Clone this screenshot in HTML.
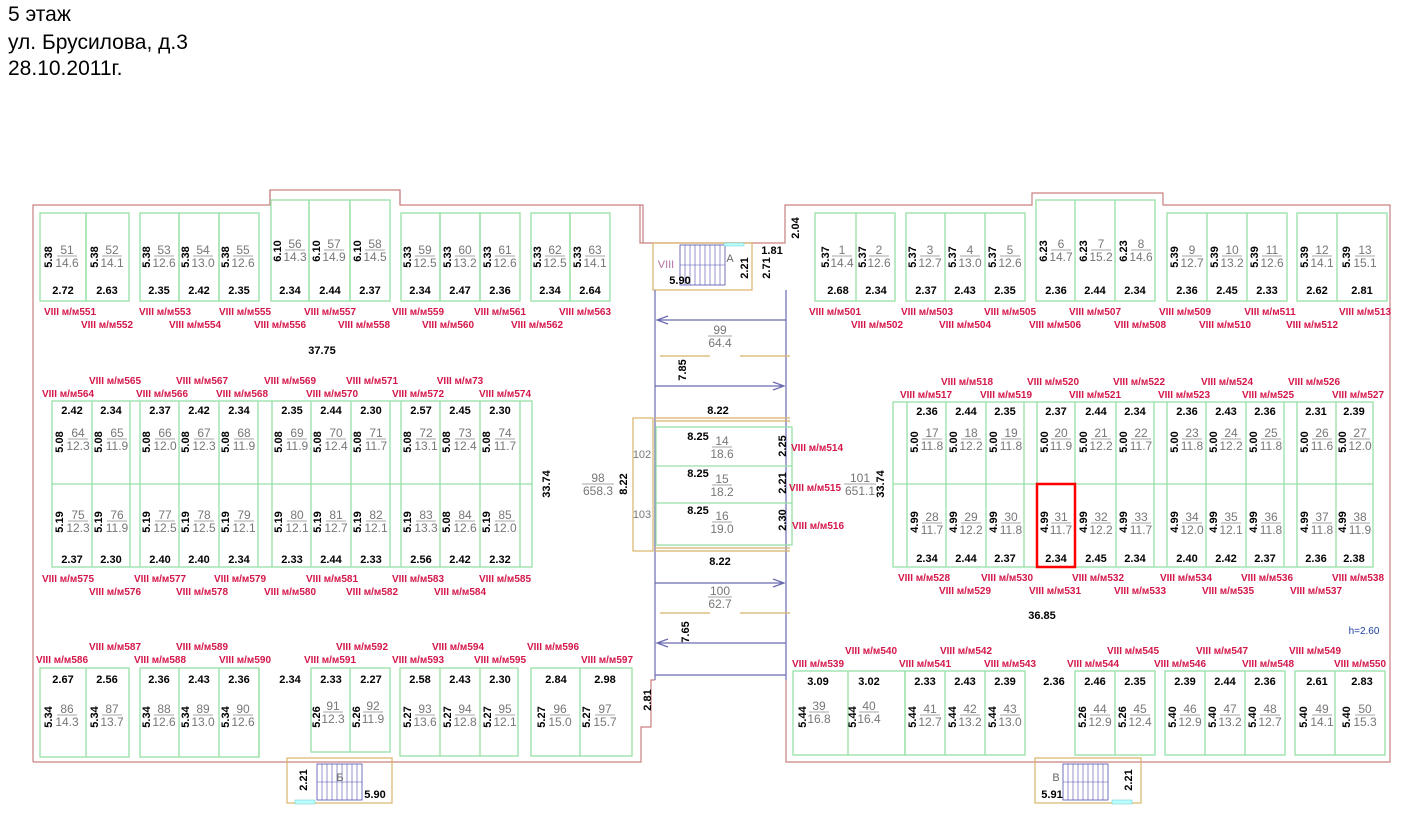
<!DOCTYPE html>
<html><head><meta charset="utf-8"><style>
html,body{margin:0;padding:0;background:#fff;}
.h{position:absolute;left:8px;font:21px "Liberation Sans",sans-serif;color:#000;}
svg text{font-family:"Liberation Sans",sans-serif;}
.d{font-size:11px;font-weight:bold;fill:#000;text-anchor:middle;}
.w{font-size:11px;font-weight:bold;fill:#000;text-anchor:middle;}
.f{font-size:12px;fill:#777;text-anchor:middle;}
.l{font-size:10px;font-weight:bold;fill:#d4174a;text-anchor:middle;}
.g{fill:none;stroke:#96e0a6;stroke-width:1.3;}
.p{fill:none;stroke:#c98080;stroke-width:1.2;}
.t{fill:none;stroke:#d8b56a;stroke-width:1.2;}
.b{stroke:#6a6ab0;stroke-width:1.2;fill:none;}
.fl{stroke:#888;stroke-width:0.8;}
</style></head><body>
<div class="h" style="top:3px">5 этаж</div>
<div class="h" style="top:31px">ул. Брусилова, д.3</div>
<div class="h" style="top:57px">28.10.2011г.</div>
<svg width="1407" height="814" style="position:absolute;left:0;top:0">
<!-- outer walls -->
<path class="p" d="M33,762 V205 H270 V190 H400 V205 H643 V243 H640 M640,205 V243 H785 V205 H1032 V193 H1163 V205 H1390 V762 H786 V680 M655,680 H651 V727 H641 V762 H33"/>
<path class="p" d="M270,190 V205 M400,190 V205"/>
<!-- stair A -->
<rect class="t" x="653" y="243" width="99" height="47"/>
<rect x="680" y="245" width="45" height="40" fill="none" stroke="#5050b0" stroke-width="0.8"/>
<path stroke="#5050b0" stroke-width="0.6" d="M680,265 H725 M685,245 V285 M690,245 V285 M695,245 V285 M700,245 V285 M705,245 V285 M710,245 V285 M715,245 V285 M720,245 V285"/>
<rect x="724" y="243" width="20" height="3" fill="#bff" stroke="#6cc" stroke-width="0.5"/>
<text x="666" y="268" font-size="11" fill="#b070a0" text-anchor="middle">VIII</text>
<text x="730" y="262" font-size="11" fill="#666" text-anchor="middle">А</text>
<text class="w" x="680" y="284">5.90</text>
<text class="d" transform="translate(748,268) rotate(-90)">2.21</text>
<text class="d" transform="translate(770,268) rotate(-90)">2.71</text>
<text class="w" x="772" y="254">1.81</text>
<text class="d" transform="translate(799,228) rotate(-90)">2.04</text>
<!-- corridor -->
<path class="b" d="M655,290 V680 M786,290 V680 M655,675 H786"/>
<path class="b" d="M786,320 H657 M668,316 L657,320 L668,324 M655,386 H784 M773,382 L784,386 L773,390 M655,583 H784 M773,579 L784,583 L773,587 M786,643 H657 M668,639 L657,643 L668,647"/>
<path class="t" d="M660,356 H710 M740,356 H790 M660,613 H710 M740,613 H790 M655,418 H790 M655,421 H790 M655,551 H790 M655,548 H790"/>
<text class="f" x="720" y="334">99</text><line class="fl" x1="708" y1="336" x2="732" y2="336"/><text class="f" x="720" y="347">64.4</text>
<text class="d" transform="translate(686,370) rotate(-90)">7.85</text>
<text class="w" x="718" y="414">8.22</text>
<text class="w" x="720" y="565">8.22</text>
<text class="f" x="720" y="595">100</text><line class="fl" x1="708" y1="597" x2="732" y2="597"/><text class="f" x="720" y="608">62.7</text>
<text class="d" transform="translate(689,632) rotate(-90)">7.65</text>
<rect class="g" x="656" y="427" width="136" height="118"/>
<path class="g" d="M656,466 H792 M656,503 H792"/>
<rect class="t" x="633" y="418" width="20" height="133"/>
<text x="642" y="458" font-size="11" fill="#777" text-anchor="middle">102</text>
<text x="642" y="518" font-size="11" fill="#777" text-anchor="middle">103</text>
<text class="d" transform="translate(627,484) rotate(-90)">8.22</text>
<text class="w" x="698" y="440">8.25</text><text class="f" x="722" y="445">14</text><line class="fl" x1="712" y1="447" x2="732" y2="447"/><text class="f" x="722" y="458">18.6</text>
<text class="w" x="698" y="477">8.25</text><text class="f" x="722" y="483">15</text><line class="fl" x1="712" y1="485" x2="732" y2="485"/><text class="f" x="722" y="496">18.2</text>
<text class="w" x="698" y="514">8.25</text><text class="f" x="722" y="520">16</text><line class="fl" x1="712" y1="522" x2="732" y2="522"/><text class="f" x="722" y="533">19.0</text>
<text class="d" transform="translate(786,446) rotate(-90)">2.25</text>
<text class="d" transform="translate(786,483) rotate(-90)">2.21</text>
<text class="d" transform="translate(786,520) rotate(-90)">2.30</text>
<text class="l" x="817" y="451">VIII м/м514</text>
<text class="l" x="815" y="491">VIII м/м515</text>
<text class="l" x="818" y="529">VIII м/м516</text>

<!-- LEFT TOP ROW -->
<g>
<rect class="g" x="40" y="213" width="46" height="88"/><rect class="g" x="86" y="213" width="43" height="88"/>
<rect class="g" x="140" y="213" width="39" height="88"/><rect class="g" x="179" y="213" width="40" height="88"/><rect class="g" x="219" y="213" width="40" height="88"/>
<rect class="g" x="271" y="200" width="38" height="101"/><rect class="g" x="309" y="200" width="41" height="101"/><rect class="g" x="350" y="200" width="40" height="101"/>
<rect class="g" x="401" y="213" width="39" height="88"/><rect class="g" x="440" y="213" width="40" height="88"/><rect class="g" x="480" y="213" width="40" height="88"/>
<rect class="g" x="531" y="213" width="39" height="88"/><rect class="g" x="570" y="213" width="40" height="88"/>
</g>
<g>
<text class="d" transform="translate(52,257) rotate(-90)">5.38</text><text class="f" x="67" y="254">51</text><line class="fl" x1="57" y1="256" x2="77" y2="256"/><text class="f" x="67" y="267">14.6</text><text class="w" x="63" y="294">2.72</text>
<text class="d" transform="translate(98,257) rotate(-90)">5.38</text><text class="f" x="112" y="254">52</text><line class="fl" x1="102" y1="256" x2="122" y2="256"/><text class="f" x="112" y="267">14.1</text><text class="w" x="107" y="294">2.63</text>
<text class="d" transform="translate(150,257) rotate(-90)">5.38</text><text class="f" x="164" y="254">53</text><line class="fl" x1="154" y1="256" x2="174" y2="256"/><text class="f" x="164" y="267">12.6</text><text class="w" x="159" y="294">2.35</text>
<text class="d" transform="translate(189,257) rotate(-90)">5.38</text><text class="f" x="203" y="254">54</text><line class="fl" x1="193" y1="256" x2="213" y2="256"/><text class="f" x="203" y="267">13.0</text><text class="w" x="199" y="294">2.42</text>
<text class="d" transform="translate(229,257) rotate(-90)">5.38</text><text class="f" x="243" y="254">55</text><line class="fl" x1="233" y1="256" x2="253" y2="256"/><text class="f" x="243" y="267">12.6</text><text class="w" x="239" y="294">2.35</text>
<text class="d" transform="translate(281,251) rotate(-90)">6.10</text><text class="f" x="295" y="248">56</text><line class="fl" x1="285" y1="250" x2="305" y2="250"/><text class="f" x="295" y="261">14.3</text><text class="w" x="290" y="294">2.34</text>
<text class="d" transform="translate(320,251) rotate(-90)">6.10</text><text class="f" x="334" y="248">57</text><line class="fl" x1="324" y1="250" x2="344" y2="250"/><text class="f" x="334" y="261">14.9</text><text class="w" x="330" y="294">2.44</text>
<text class="d" transform="translate(361,251) rotate(-90)">6.10</text><text class="f" x="375" y="248">58</text><line class="fl" x1="365" y1="250" x2="385" y2="250"/><text class="f" x="375" y="261">14.5</text><text class="w" x="370" y="294">2.37</text>
<text class="d" transform="translate(411,257) rotate(-90)">5.33</text><text class="f" x="425" y="254">59</text><line class="fl" x1="415" y1="256" x2="435" y2="256"/><text class="f" x="425" y="267">12.5</text><text class="w" x="420" y="294">2.34</text>
<text class="d" transform="translate(451,257) rotate(-90)">5.33</text><text class="f" x="465" y="254">60</text><line class="fl" x1="455" y1="256" x2="475" y2="256"/><text class="f" x="465" y="267">13.2</text><text class="w" x="460" y="294">2.47</text>
<text class="d" transform="translate(491,257) rotate(-90)">5.33</text><text class="f" x="505" y="254">61</text><line class="fl" x1="495" y1="256" x2="515" y2="256"/><text class="f" x="505" y="267">12.6</text><text class="w" x="500" y="294">2.36</text>
<text class="d" transform="translate(541,257) rotate(-90)">5.33</text><text class="f" x="555" y="254">62</text><line class="fl" x1="545" y1="256" x2="565" y2="256"/><text class="f" x="555" y="267">12.5</text><text class="w" x="550" y="294">2.34</text>
<text class="d" transform="translate(581,257) rotate(-90)">5.33</text><text class="f" x="595" y="254">63</text><line class="fl" x1="585" y1="256" x2="605" y2="256"/><text class="f" x="595" y="267">14.1</text><text class="w" x="590" y="294">2.64</text>
</g>
<g>
<text class="l" x="70" y="315">VIII м/м551</text><text class="l" x="165" y="315">VIII м/м553</text><text class="l" x="245" y="315">VIII м/м555</text><text class="l" x="330" y="315">VIII м/м557</text><text class="l" x="418" y="315">VIII м/м559</text><text class="l" x="500" y="315">VIII м/м561</text><text class="l" x="585" y="315">VIII м/м563</text>
<text class="l" x="107" y="328">VIII м/м552</text><text class="l" x="195" y="328">VIII м/м554</text><text class="l" x="280" y="328">VIII м/м556</text><text class="l" x="364" y="328">VIII м/м558</text><text class="l" x="448" y="328">VIII м/м560</text><text class="l" x="537" y="328">VIII м/м562</text>
</g>
<text class="w" x="322" y="354">37.75</text>

<!-- LEFT MIDDLE BLOCK -->
<rect class="g" x="52" y="401" width="480" height="166"/>
<path class="g" d="M52,484 H532 M92,401 V567 M130,401 V567 M140,401 V567 M179,401 V567 M219,401 V567 M258,401 V567 M272,401 V567 M311,401 V567 M351,401 V567 M390,401 V567 M401,401 V567 M440,401 V567 M480,401 V567 M520,401 V567"/>
<g>
<text class="w" x="72" y="414">2.42</text><text class="d" transform="translate(63,442) rotate(-90)">5.08</text><text class="f" x="78" y="437">64</text><line class="fl" x1="68" y1="439" x2="88" y2="439"/><text class="f" x="78" y="450">12.3</text>
<text class="w" x="111" y="414">2.34</text><text class="d" transform="translate(102,442) rotate(-90)">5.08</text><text class="f" x="117" y="437">65</text><line class="fl" x1="107" y1="439" x2="127" y2="439"/><text class="f" x="117" y="450">11.9</text>
<text class="w" x="160" y="414">2.37</text><text class="d" transform="translate(150,442) rotate(-90)">5.08</text><text class="f" x="165" y="437">66</text><line class="fl" x1="155" y1="439" x2="175" y2="439"/><text class="f" x="165" y="450">12.0</text>
<text class="w" x="199" y="414">2.42</text><text class="d" transform="translate(189,442) rotate(-90)">5.08</text><text class="f" x="204" y="437">67</text><line class="fl" x1="194" y1="439" x2="214" y2="439"/><text class="f" x="204" y="450">12.3</text>
<text class="w" x="239" y="414">2.34</text><text class="d" transform="translate(229,442) rotate(-90)">5.08</text><text class="f" x="244" y="437">68</text><line class="fl" x1="234" y1="439" x2="254" y2="439"/><text class="f" x="244" y="450">11.9</text>
<text class="w" x="292" y="414">2.35</text><text class="d" transform="translate(282,442) rotate(-90)">5.08</text><text class="f" x="297" y="437">69</text><line class="fl" x1="287" y1="439" x2="307" y2="439"/><text class="f" x="297" y="450">11.9</text>
<text class="w" x="331" y="414">2.44</text><text class="d" transform="translate(321,442) rotate(-90)">5.08</text><text class="f" x="336" y="437">70</text><line class="fl" x1="326" y1="439" x2="346" y2="439"/><text class="f" x="336" y="450">12.4</text>
<text class="w" x="371" y="414">2.30</text><text class="d" transform="translate(361,442) rotate(-90)">5.08</text><text class="f" x="376" y="437">71</text><line class="fl" x1="366" y1="439" x2="386" y2="439"/><text class="f" x="376" y="450">11.7</text>
<text class="w" x="421" y="414">2.57</text><text class="d" transform="translate(411,442) rotate(-90)">5.08</text><text class="f" x="426" y="437">72</text><line class="fl" x1="416" y1="439" x2="436" y2="439"/><text class="f" x="426" y="450">13.1</text>
<text class="w" x="460" y="414">2.45</text><text class="d" transform="translate(450,442) rotate(-90)">5.08</text><text class="f" x="465" y="437">73</text><line class="fl" x1="455" y1="439" x2="475" y2="439"/><text class="f" x="465" y="450">12.4</text>
<text class="w" x="500" y="414">2.30</text><text class="d" transform="translate(490,442) rotate(-90)">5.08</text><text class="f" x="505" y="437">74</text><line class="fl" x1="495" y1="439" x2="515" y2="439"/><text class="f" x="505" y="450">11.7</text>

<text class="w" x="72" y="563">2.37</text><text class="d" transform="translate(63,522) rotate(-90)">5.19</text><text class="f" x="78" y="519">75</text><line class="fl" x1="68" y1="521" x2="88" y2="521"/><text class="f" x="78" y="532">12.3</text>
<text class="w" x="111" y="563">2.30</text><text class="d" transform="translate(102,522) rotate(-90)">5.19</text><text class="f" x="117" y="519">76</text><line class="fl" x1="107" y1="521" x2="127" y2="521"/><text class="f" x="117" y="532">11.9</text>
<text class="w" x="160" y="563">2.40</text><text class="d" transform="translate(150,522) rotate(-90)">5.19</text><text class="f" x="165" y="519">77</text><line class="fl" x1="155" y1="521" x2="175" y2="521"/><text class="f" x="165" y="532">12.5</text>
<text class="w" x="199" y="563">2.40</text><text class="d" transform="translate(189,522) rotate(-90)">5.19</text><text class="f" x="204" y="519">78</text><line class="fl" x1="194" y1="521" x2="214" y2="521"/><text class="f" x="204" y="532">12.5</text>
<text class="w" x="239" y="563">2.34</text><text class="d" transform="translate(229,522) rotate(-90)">5.19</text><text class="f" x="244" y="519">79</text><line class="fl" x1="234" y1="521" x2="254" y2="521"/><text class="f" x="244" y="532">12.1</text>
<text class="w" x="292" y="563">2.33</text><text class="d" transform="translate(282,522) rotate(-90)">5.19</text><text class="f" x="297" y="519">80</text><line class="fl" x1="287" y1="521" x2="307" y2="521"/><text class="f" x="297" y="532">12.1</text>
<text class="w" x="331" y="563">2.44</text><text class="d" transform="translate(321,522) rotate(-90)">5.19</text><text class="f" x="336" y="519">81</text><line class="fl" x1="326" y1="521" x2="346" y2="521"/><text class="f" x="336" y="532">12.7</text>
<text class="w" x="371" y="563">2.33</text><text class="d" transform="translate(361,522) rotate(-90)">5.19</text><text class="f" x="376" y="519">82</text><line class="fl" x1="366" y1="521" x2="386" y2="521"/><text class="f" x="376" y="532">12.1</text>
<text class="w" x="421" y="563">2.56</text><text class="d" transform="translate(411,522) rotate(-90)">5.19</text><text class="f" x="426" y="519">83</text><line class="fl" x1="416" y1="521" x2="436" y2="521"/><text class="f" x="426" y="532">13.3</text>
<text class="w" x="460" y="563">2.42</text><text class="d" transform="translate(450,522) rotate(-90)">5.08</text><text class="f" x="465" y="519">84</text><line class="fl" x1="455" y1="521" x2="475" y2="521"/><text class="f" x="465" y="532">12.6</text>
<text class="w" x="500" y="563">2.32</text><text class="d" transform="translate(490,522) rotate(-90)">5.19</text><text class="f" x="505" y="519">85</text><line class="fl" x1="495" y1="521" x2="515" y2="521"/><text class="f" x="505" y="532">12.0</text>
</g>
<g>
<text class="l" x="115" y="384">VIII м/м565</text><text class="l" x="202" y="384">VIII м/м567</text><text class="l" x="290" y="384">VIII м/м569</text><text class="l" x="372" y="384">VIII м/м571</text><text class="l" x="460" y="384">VIII м/м73</text>
<text class="l" x="68" y="397">VIII м/м564</text><text class="l" x="162" y="397">VIII м/м566</text><text class="l" x="242" y="397">VIII м/м568</text><text class="l" x="332" y="397">VIII м/м570</text><text class="l" x="418" y="397">VIII м/м572</text><text class="l" x="505" y="397">VIII м/м574</text>
<text class="l" x="68" y="582">VIII м/м575</text><text class="l" x="160" y="582">VIII м/м577</text><text class="l" x="240" y="582">VIII м/м579</text><text class="l" x="332" y="582">VIII м/м581</text><text class="l" x="418" y="582">VIII м/м583</text><text class="l" x="505" y="582">VIII м/м585</text>
<text class="l" x="115" y="595">VIII м/м576</text><text class="l" x="202" y="595">VIII м/м578</text><text class="l" x="290" y="595">VIII м/м580</text><text class="l" x="372" y="595">VIII м/м582</text><text class="l" x="460" y="595">VIII м/м584</text>
</g>
<text class="d" transform="translate(550,484) rotate(-90)">33.74</text>
<text class="f" x="598" y="482">98</text><line class="fl" x1="582" y1="484" x2="614" y2="484"/><text class="f" x="598" y="495">658.3</text>

<!-- LEFT BOTTOM BLOCK -->
<rect class="g" x="40" y="668" width="89" height="89"/><line class="g" x1="86" y1="668" x2="86" y2="757"/>
<rect class="g" x="140" y="668" width="119" height="89"/><path class="g" d="M179,668 V757 M219,668 V757"/>
<rect class="g" x="311" y="668" width="79" height="84"/><line class="g" x1="350" y1="668" x2="350" y2="752"/>
<rect class="g" x="400" y="668" width="118" height="88"/><path class="g" d="M440,668 V756 M480,668 V756"/>
<rect class="g" x="531" y="668" width="101" height="88"/><line class="g" x1="580" y1="668" x2="580" y2="756"/>
<line class="g" x1="259" y1="668" x2="259" y2="757"/>
<g>
<text class="w" x="63" y="683">2.67</text><text class="d" transform="translate(52,717) rotate(-90)">5.34</text><text class="f" x="67" y="713">86</text><line class="fl" x1="57" y1="715" x2="77" y2="715"/><text class="f" x="67" y="726">14.3</text>
<text class="w" x="107" y="683">2.56</text><text class="d" transform="translate(98,717) rotate(-90)">5.34</text><text class="f" x="112" y="713">87</text><line class="fl" x1="102" y1="715" x2="122" y2="715"/><text class="f" x="112" y="726">13.7</text>
<text class="w" x="159" y="683">2.36</text><text class="d" transform="translate(150,717) rotate(-90)">5.34</text><text class="f" x="164" y="713">88</text><line class="fl" x1="154" y1="715" x2="174" y2="715"/><text class="f" x="164" y="726">12.6</text>
<text class="w" x="199" y="683">2.43</text><text class="d" transform="translate(189,717) rotate(-90)">5.34</text><text class="f" x="203" y="713">89</text><line class="fl" x1="193" y1="715" x2="213" y2="715"/><text class="f" x="203" y="726">13.0</text>
<text class="w" x="239" y="683">2.36</text><text class="d" transform="translate(229,717) rotate(-90)">5.34</text><text class="f" x="243" y="713">90</text><line class="fl" x1="233" y1="715" x2="253" y2="715"/><text class="f" x="243" y="726">12.6</text>
<text class="w" x="290" y="683">2.34</text>
<text class="w" x="331" y="683">2.33</text><text class="d" transform="translate(320,717) rotate(-90)">5.26</text><text class="f" x="333" y="710">91</text><line class="fl" x1="323" y1="712" x2="343" y2="712"/><text class="f" x="333" y="723">12.3</text>
<text class="w" x="371" y="683">2.27</text><text class="d" transform="translate(360,717) rotate(-90)">5.26</text><text class="f" x="373" y="710">92</text><line class="fl" x1="363" y1="712" x2="383" y2="712"/><text class="f" x="373" y="723">11.9</text>
<text class="w" x="420" y="683">2.58</text><text class="d" transform="translate(411,717) rotate(-90)">5.27</text><text class="f" x="425" y="713">93</text><line class="fl" x1="415" y1="715" x2="435" y2="715"/><text class="f" x="425" y="726">13.6</text>
<text class="w" x="460" y="683">2.43</text><text class="d" transform="translate(451,717) rotate(-90)">5.27</text><text class="f" x="465" y="713">94</text><line class="fl" x1="455" y1="715" x2="475" y2="715"/><text class="f" x="465" y="726">12.8</text>
<text class="w" x="500" y="683">2.30</text><text class="d" transform="translate(491,717) rotate(-90)">5.27</text><text class="f" x="505" y="713">95</text><line class="fl" x1="495" y1="715" x2="515" y2="715"/><text class="f" x="505" y="726">12.1</text>
<text class="w" x="556" y="683">2.84</text><text class="d" transform="translate(545,717) rotate(-90)">5.27</text><text class="f" x="560" y="713">96</text><line class="fl" x1="550" y1="715" x2="570" y2="715"/><text class="f" x="560" y="726">15.0</text>
<text class="w" x="605" y="683">2.98</text><text class="d" transform="translate(590,717) rotate(-90)">5.27</text><text class="f" x="605" y="713">97</text><line class="fl" x1="595" y1="715" x2="615" y2="715"/><text class="f" x="605" y="726">15.7</text>
</g>
<g>
<text class="l" x="115" y="650">VIII м/м587</text><text class="l" x="202" y="650">VIII м/м589</text><text class="l" x="362" y="650">VIII м/м592</text><text class="l" x="458" y="650">VIII м/м594</text><text class="l" x="553" y="650">VIII м/м596</text>
<text class="l" x="62" y="663">VIII м/м586</text><text class="l" x="160" y="663">VIII м/м588</text><text class="l" x="245" y="663">VIII м/м590</text><text class="l" x="330" y="663">VIII м/м591</text><text class="l" x="418" y="663">VIII м/м593</text><text class="l" x="500" y="663">VIII м/м595</text><text class="l" x="607" y="663">VIII м/м597</text>
</g>
<text class="d" transform="translate(651,700) rotate(-90)">2.81</text>
<!-- stair Б -->
<rect class="t" x="287" y="758" width="105" height="45"/>
<rect x="317" y="764" width="45" height="36" fill="none" stroke="#5050b0" stroke-width="0.8"/>
<path stroke="#5050b0" stroke-width="0.6" d="M317,782 H362 M322,764 V800 M327,764 V800 M332,764 V800 M337,764 V800 M342,764 V800 M347,764 V800 M352,764 V800 M357,764 V800"/>
<rect x="295" y="800" width="20" height="4" fill="#bff" stroke="#6cc" stroke-width="0.5"/>
<text x="340" y="781" font-size="11" fill="#666" text-anchor="middle">Б</text>
<text class="w" x="375" y="798">5.90</text>
<text class="d" transform="translate(307,780) rotate(-90)">2.21</text>

<!-- RIGHT TOP ROW -->
<rect class="g" x="815" y="213" width="80" height="88"/><line class="g" x1="856" y1="213" x2="856" y2="301"/>
<rect class="g" x="906" y="213" width="119" height="88"/><path class="g" d="M945,213 V301 M985,213 V301"/>
<rect class="g" x="1036" y="200" width="119" height="101"/><path class="g" d="M1075,200 V301 M1115,200 V301"/>
<rect class="g" x="1167" y="213" width="120" height="88"/><path class="g" d="M1207,213 V301 M1247,213 V301"/>
<rect class="g" x="1297" y="213" width="90" height="88"/><line class="g" x1="1337" y1="213" x2="1337" y2="301"/>
<g>
<text class="d" transform="translate(829,257) rotate(-90)">5.37</text><text class="f" x="842" y="254">1</text><line class="fl" x1="832" y1="256" x2="852" y2="256"/><text class="f" x="842" y="267">14.4</text><text class="w" x="838" y="294">2.68</text>
<text class="d" transform="translate(866,257) rotate(-90)">5.37</text><text class="f" x="879" y="254">2</text><line class="fl" x1="869" y1="256" x2="889" y2="256"/><text class="f" x="879" y="267">12.6</text><text class="w" x="876" y="294">2.34</text>
<text class="d" transform="translate(916,257) rotate(-90)">5.37</text><text class="f" x="930" y="254">3</text><line class="fl" x1="920" y1="256" x2="940" y2="256"/><text class="f" x="930" y="267">12.7</text><text class="w" x="926" y="294">2.37</text>
<text class="d" transform="translate(956,257) rotate(-90)">5.37</text><text class="f" x="970" y="254">4</text><line class="fl" x1="960" y1="256" x2="980" y2="256"/><text class="f" x="970" y="267">13.0</text><text class="w" x="965" y="294">2.43</text>
<text class="d" transform="translate(996,257) rotate(-90)">5.37</text><text class="f" x="1010" y="254">5</text><line class="fl" x1="1000" y1="256" x2="1020" y2="256"/><text class="f" x="1010" y="267">12.6</text><text class="w" x="1005" y="294">2.35</text>
<text class="d" transform="translate(1047,251) rotate(-90)">6.23</text><text class="f" x="1061" y="248">6</text><line class="fl" x1="1051" y1="250" x2="1071" y2="250"/><text class="f" x="1061" y="261">14.7</text><text class="w" x="1056" y="294">2.36</text>
<text class="d" transform="translate(1087,251) rotate(-90)">6.23</text><text class="f" x="1101" y="248">7</text><line class="fl" x1="1091" y1="250" x2="1111" y2="250"/><text class="f" x="1101" y="261">15.2</text><text class="w" x="1095" y="294">2.44</text>
<text class="d" transform="translate(1127,251) rotate(-90)">6.23</text><text class="f" x="1141" y="248">8</text><line class="fl" x1="1131" y1="250" x2="1151" y2="250"/><text class="f" x="1141" y="261">14.6</text><text class="w" x="1135" y="294">2.34</text>
<text class="d" transform="translate(1178,257) rotate(-90)">5.39</text><text class="f" x="1192" y="254">9</text><line class="fl" x1="1182" y1="256" x2="1202" y2="256"/><text class="f" x="1192" y="267">12.7</text><text class="w" x="1187" y="294">2.36</text>
<text class="d" transform="translate(1218,257) rotate(-90)">5.39</text><text class="f" x="1232" y="254">10</text><line class="fl" x1="1222" y1="256" x2="1242" y2="256"/><text class="f" x="1232" y="267">13.2</text><text class="w" x="1227" y="294">2.45</text>
<text class="d" transform="translate(1258,257) rotate(-90)">5.39</text><text class="f" x="1272" y="254">11</text><line class="fl" x1="1262" y1="256" x2="1282" y2="256"/><text class="f" x="1272" y="267">12.6</text><text class="w" x="1267" y="294">2.33</text>
<text class="d" transform="translate(1308,257) rotate(-90)">5.39</text><text class="f" x="1322" y="254">12</text><line class="fl" x1="1312" y1="256" x2="1332" y2="256"/><text class="f" x="1322" y="267">14.1</text><text class="w" x="1317" y="294">2.62</text>
<text class="d" transform="translate(1350,257) rotate(-90)">5.39</text><text class="f" x="1365" y="254">13</text><line class="fl" x1="1355" y1="256" x2="1375" y2="256"/><text class="f" x="1365" y="267">15.1</text><text class="w" x="1362" y="294">2.81</text>
</g>
<g>
<text class="l" x="835" y="315">VIII м/м501</text><text class="l" x="927" y="315">VIII м/м503</text><text class="l" x="1010" y="315">VIII м/м505</text><text class="l" x="1095" y="315">VIII м/м507</text><text class="l" x="1185" y="315">VIII м/м509</text><text class="l" x="1270" y="315">VIII м/м511</text><text class="l" x="1365" y="315">VIII м/м513</text>
<text class="l" x="877" y="328">VIII м/м502</text><text class="l" x="965" y="328">VIII м/м504</text><text class="l" x="1055" y="328">VIII м/м506</text><text class="l" x="1140" y="328">VIII м/м508</text><text class="l" x="1225" y="328">VIII м/м510</text><text class="l" x="1312" y="328">VIII м/м512</text>
</g>

<!-- RIGHT MIDDLE BLOCK -->
<rect class="g" x="893" y="402" width="480" height="165"/>
<path class="g" d="M893,484 H1373 M907,402 V567 M946,402 V567 M986,402 V567 M1024,402 V567 M1037,402 V567 M1075,402 V567 M1116,402 V567 M1154,402 V567 M1167,402 V567 M1206,402 V567 M1246,402 V567 M1284,402 V567 M1297,402 V567 M1336,402 V567"/>
<g>
<text class="w" x="927" y="415">2.36</text><text class="d" transform="translate(918,442) rotate(-90)">5.00</text><text class="f" x="932" y="437">17</text><line class="fl" x1="922" y1="439" x2="942" y2="439"/><text class="f" x="932" y="450">11.8</text>
<text class="w" x="966" y="415">2.44</text><text class="d" transform="translate(957,442) rotate(-90)">5.00</text><text class="f" x="971" y="437">18</text><line class="fl" x1="961" y1="439" x2="981" y2="439"/><text class="f" x="971" y="450">12.2</text>
<text class="w" x="1005" y="415">2.35</text><text class="d" transform="translate(997,442) rotate(-90)">5.00</text><text class="f" x="1011" y="437">19</text><line class="fl" x1="1001" y1="439" x2="1021" y2="439"/><text class="f" x="1011" y="450">11.8</text>
<text class="w" x="1056" y="415">2.37</text><text class="d" transform="translate(1048,442) rotate(-90)">5.00</text><text class="f" x="1061" y="437">20</text><line class="fl" x1="1051" y1="439" x2="1071" y2="439"/><text class="f" x="1061" y="450">11.9</text>
<text class="w" x="1096" y="415">2.44</text><text class="d" transform="translate(1087,442) rotate(-90)">5.00</text><text class="f" x="1101" y="437">21</text><line class="fl" x1="1091" y1="439" x2="1111" y2="439"/><text class="f" x="1101" y="450">12.2</text>
<text class="w" x="1135" y="415">2.34</text><text class="d" transform="translate(1127,442) rotate(-90)">5.00</text><text class="f" x="1141" y="437">22</text><line class="fl" x1="1131" y1="439" x2="1151" y2="439"/><text class="f" x="1141" y="450">11.7</text>
<text class="w" x="1187" y="415">2.36</text><text class="d" transform="translate(1178,442) rotate(-90)">5.00</text><text class="f" x="1192" y="437">23</text><line class="fl" x1="1182" y1="439" x2="1202" y2="439"/><text class="f" x="1192" y="450">11.8</text>
<text class="w" x="1226" y="415">2.43</text><text class="d" transform="translate(1217,442) rotate(-90)">5.00</text><text class="f" x="1231" y="437">24</text><line class="fl" x1="1221" y1="439" x2="1241" y2="439"/><text class="f" x="1231" y="450">12.2</text>
<text class="w" x="1265" y="415">2.36</text><text class="d" transform="translate(1257,442) rotate(-90)">5.00</text><text class="f" x="1271" y="437">25</text><line class="fl" x1="1261" y1="439" x2="1281" y2="439"/><text class="f" x="1271" y="450">11.8</text>
<text class="w" x="1316" y="415">2.31</text><text class="d" transform="translate(1308,442) rotate(-90)">5.00</text><text class="f" x="1322" y="437">26</text><line class="fl" x1="1312" y1="439" x2="1332" y2="439"/><text class="f" x="1322" y="450">11.6</text>
<text class="w" x="1354" y="415">2.39</text><text class="d" transform="translate(1346,442) rotate(-90)">5.00</text><text class="f" x="1360" y="437">27</text><line class="fl" x1="1350" y1="439" x2="1370" y2="439"/><text class="f" x="1360" y="450">12.0</text>

<text class="w" x="927" y="562">2.34</text><text class="d" transform="translate(918,522) rotate(-90)">4.99</text><text class="f" x="932" y="521">28</text><line class="fl" x1="922" y1="523" x2="942" y2="523"/><text class="f" x="932" y="534">11.7</text>
<text class="w" x="966" y="562">2.44</text><text class="d" transform="translate(957,522) rotate(-90)">4.99</text><text class="f" x="971" y="521">29</text><line class="fl" x1="961" y1="523" x2="981" y2="523"/><text class="f" x="971" y="534">12.2</text>
<text class="w" x="1005" y="562">2.37</text><text class="d" transform="translate(997,522) rotate(-90)">4.99</text><text class="f" x="1011" y="521">30</text><line class="fl" x1="1001" y1="523" x2="1021" y2="523"/><text class="f" x="1011" y="534">11.8</text>
<text class="w" x="1056" y="562">2.34</text><text class="d" transform="translate(1048,522) rotate(-90)">4.99</text><text class="f" x="1061" y="521">31</text><line class="fl" x1="1051" y1="523" x2="1071" y2="523"/><text class="f" x="1061" y="534">11.7</text>
<text class="w" x="1096" y="562">2.45</text><text class="d" transform="translate(1087,522) rotate(-90)">4.99</text><text class="f" x="1101" y="521">32</text><line class="fl" x1="1091" y1="523" x2="1111" y2="523"/><text class="f" x="1101" y="534">12.2</text>
<text class="w" x="1135" y="562">2.34</text><text class="d" transform="translate(1127,522) rotate(-90)">4.99</text><text class="f" x="1141" y="521">33</text><line class="fl" x1="1131" y1="523" x2="1151" y2="523"/><text class="f" x="1141" y="534">11.7</text>
<text class="w" x="1187" y="562">2.40</text><text class="d" transform="translate(1178,522) rotate(-90)">4.99</text><text class="f" x="1192" y="521">34</text><line class="fl" x1="1182" y1="523" x2="1202" y2="523"/><text class="f" x="1192" y="534">12.0</text>
<text class="w" x="1226" y="562">2.42</text><text class="d" transform="translate(1217,522) rotate(-90)">4.99</text><text class="f" x="1231" y="521">35</text><line class="fl" x1="1221" y1="523" x2="1241" y2="523"/><text class="f" x="1231" y="534">12.1</text>
<text class="w" x="1265" y="562">2.37</text><text class="d" transform="translate(1257,522) rotate(-90)">4.99</text><text class="f" x="1271" y="521">36</text><line class="fl" x1="1261" y1="523" x2="1281" y2="523"/><text class="f" x="1271" y="534">11.8</text>
<text class="w" x="1316" y="562">2.36</text><text class="d" transform="translate(1308,522) rotate(-90)">4.99</text><text class="f" x="1322" y="521">37</text><line class="fl" x1="1312" y1="523" x2="1332" y2="523"/><text class="f" x="1322" y="534">11.8</text>
<text class="w" x="1354" y="562">2.38</text><text class="d" transform="translate(1346,522) rotate(-90)">4.99</text><text class="f" x="1360" y="521">38</text><line class="fl" x1="1350" y1="523" x2="1370" y2="523"/><text class="f" x="1360" y="534">11.9</text>
</g>
<rect x="1037" y="484" width="38" height="83" fill="none" stroke="#f00" stroke-width="2.5"/>
<g>
<text class="l" x="967" y="385">VIII м/м518</text><text class="l" x="1053" y="385">VIII м/м520</text><text class="l" x="1139" y="385">VIII м/м522</text><text class="l" x="1227" y="385">VIII м/м524</text><text class="l" x="1314" y="385">VIII м/м526</text>
<text class="l" x="926" y="398">VIII м/м517</text><text class="l" x="1006" y="398">VIII м/м519</text><text class="l" x="1095" y="398">VIII м/м521</text><text class="l" x="1184" y="398">VIII м/м523</text><text class="l" x="1268" y="398">VIII м/м525</text><text class="l" x="1358" y="398">VIII м/м527</text>
<text class="l" x="924" y="581">VIII м/м528</text><text class="l" x="1007" y="581">VIII м/м530</text><text class="l" x="1098" y="581">VIII м/м532</text><text class="l" x="1186" y="581">VIII м/м534</text><text class="l" x="1267" y="581">VIII м/м536</text><text class="l" x="1358" y="581">VIII м/м538</text>
<text class="l" x="965" y="594">VIII м/м529</text><text class="l" x="1055" y="594">VIII м/м531</text><text class="l" x="1140" y="594">VIII м/м533</text><text class="l" x="1228" y="594">VIII м/м535</text><text class="l" x="1316" y="594">VIII м/м537</text>
</g>
<text class="w" x="1042" y="619">36.85</text>
<text x="1364" y="634" font-size="10" fill="#2040a0" text-anchor="middle">h=2.60</text>
<text class="d" transform="translate(884,484) rotate(-90)">33.74</text>
<text class="f" x="860" y="482">101</text><line class="fl" x1="844" y1="484" x2="876" y2="484"/><text class="f" x="860" y="495">651.1</text>

<!-- RIGHT BOTTOM BLOCK -->
<rect class="g" x="793" y="671" width="112" height="84"/><line class="g" x1="848" y1="671" x2="848" y2="755"/>
<rect class="g" x="905" y="671" width="120" height="84"/><path class="g" d="M945,671 V755 M985,671 V755"/>
<rect class="g" x="1075" y="671" width="80" height="84"/><line class="g" x1="1115" y1="671" x2="1115" y2="755"/>
<rect class="g" x="1165" y="671" width="120" height="84"/><path class="g" d="M1205,671 V755 M1245,671 V755"/>
<rect class="g" x="1295" y="671" width="90" height="84"/><line class="g" x1="1335" y1="671" x2="1335" y2="755"/>
<g>
<text class="w" x="818" y="685">3.09</text><text class="d" transform="translate(806,717) rotate(-90)">5.44</text><text class="f" x="819" y="710">39</text><line class="fl" x1="809" y1="712" x2="829" y2="712"/><text class="f" x="819" y="723">16.8</text>
<text class="w" x="869" y="685">3.02</text><text class="d" transform="translate(856,717) rotate(-90)">5.44</text><text class="f" x="869" y="710">40</text><line class="fl" x1="859" y1="712" x2="879" y2="712"/><text class="f" x="869" y="723">16.4</text>
<text class="w" x="925" y="685">2.33</text><text class="d" transform="translate(916,717) rotate(-90)">5.44</text><text class="f" x="930" y="713">41</text><line class="fl" x1="920" y1="715" x2="940" y2="715"/><text class="f" x="930" y="726">12.7</text>
<text class="w" x="965" y="685">2.43</text><text class="d" transform="translate(956,717) rotate(-90)">5.44</text><text class="f" x="970" y="713">42</text><line class="fl" x1="960" y1="715" x2="980" y2="715"/><text class="f" x="970" y="726">13.2</text>
<text class="w" x="1005" y="685">2.39</text><text class="d" transform="translate(996,717) rotate(-90)">5.44</text><text class="f" x="1010" y="713">43</text><line class="fl" x1="1000" y1="715" x2="1020" y2="715"/><text class="f" x="1010" y="726">13.0</text>
<text class="w" x="1054" y="685">2.36</text>
<text class="w" x="1095" y="685">2.46</text><text class="d" transform="translate(1086,717) rotate(-90)">5.26</text><text class="f" x="1100" y="713">44</text><line class="fl" x1="1090" y1="715" x2="1110" y2="715"/><text class="f" x="1100" y="726">12.9</text>
<text class="w" x="1135" y="685">2.35</text><text class="d" transform="translate(1126,717) rotate(-90)">5.26</text><text class="f" x="1140" y="713">45</text><line class="fl" x1="1130" y1="715" x2="1150" y2="715"/><text class="f" x="1140" y="726">12.4</text>
<text class="w" x="1185" y="685">2.39</text><text class="d" transform="translate(1176,717) rotate(-90)">5.40</text><text class="f" x="1190" y="713">46</text><line class="fl" x1="1180" y1="715" x2="1200" y2="715"/><text class="f" x="1190" y="726">12.9</text>
<text class="w" x="1225" y="685">2.44</text><text class="d" transform="translate(1216,717) rotate(-90)">5.40</text><text class="f" x="1230" y="713">47</text><line class="fl" x1="1220" y1="715" x2="1240" y2="715"/><text class="f" x="1230" y="726">13.2</text>
<text class="w" x="1265" y="685">2.36</text><text class="d" transform="translate(1256,717) rotate(-90)">5.40</text><text class="f" x="1270" y="713">48</text><line class="fl" x1="1260" y1="715" x2="1280" y2="715"/><text class="f" x="1270" y="726">12.7</text>
<text class="w" x="1317" y="685">2.61</text><text class="d" transform="translate(1307,717) rotate(-90)">5.40</text><text class="f" x="1322" y="713">49</text><line class="fl" x1="1312" y1="715" x2="1332" y2="715"/><text class="f" x="1322" y="726">14.1</text>
<text class="w" x="1362" y="685">2.83</text><text class="d" transform="translate(1350,717) rotate(-90)">5.40</text><text class="f" x="1365" y="713">50</text><line class="fl" x1="1355" y1="715" x2="1375" y2="715"/><text class="f" x="1365" y="726">15.3</text>
</g>
<g>
<text class="l" x="871" y="654">VIII м/м540</text><text class="l" x="966" y="654">VIII м/м542</text><text class="l" x="1133" y="654">VIII м/м545</text><text class="l" x="1222" y="654">VIII м/м547</text><text class="l" x="1315" y="654">VIII м/м549</text>
<text class="l" x="818" y="667">VIII м/м539</text><text class="l" x="925" y="667">VIII м/м541</text><text class="l" x="1010" y="667">VIII м/м543</text><text class="l" x="1093" y="667">VIII м/м544</text><text class="l" x="1180" y="667">VIII м/м546</text><text class="l" x="1268" y="667">VIII м/м548</text><text class="l" x="1360" y="667">VIII м/м550</text>
</g>
<!-- stair В -->
<rect class="t" x="1035" y="758" width="106" height="45"/>
<rect x="1063" y="764" width="45" height="36" fill="none" stroke="#5050b0" stroke-width="0.8"/>
<path stroke="#5050b0" stroke-width="0.6" d="M1063,782 H1108 M1068,764 V800 M1073,764 V800 M1078,764 V800 M1083,764 V800 M1088,764 V800 M1093,764 V800 M1098,764 V800 M1103,764 V800"/>
<rect x="1112" y="800" width="20" height="4" fill="#bff" stroke="#6cc" stroke-width="0.5"/>
<text x="1056" y="781" font-size="11" fill="#666" text-anchor="middle">В</text>
<text class="w" x="1052" y="798">5.91</text>
<text class="d" transform="translate(1132,780) rotate(-90)">2.21</text>
</svg>
</body></html>
